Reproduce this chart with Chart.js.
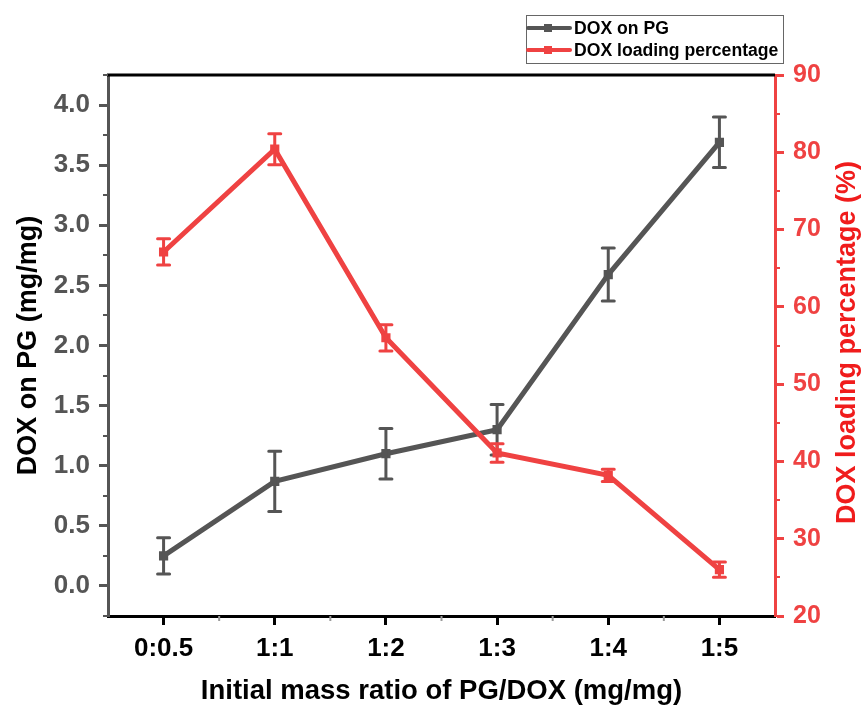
<!DOCTYPE html>
<html>
<head>
<meta charset="utf-8">
<script src="https://cdn.jsdelivr.net/npm/chart.js@4.4.1/dist/chart.umd.min.js"></script>
<style>
  html, body { margin: 0; padding: 0; background: #fff; }
  canvas { display: block; }
</style>
</head>
<body>
<canvas id="loadingChart" width="862" height="705"></canvas>
<script>
// ratios of PG/DOX (x axis)
const categories = ['0:0.5', '1:1', '1:2', '1:3', '1:4', '1:5'];

// DOX on PG (mg/mg), left axis
const doxOnPG = [0.25, 0.87, 1.10, 1.30, 2.59, 3.69];
const doxOnPGErr = [0.15, 0.25, 0.21, 0.21, 0.22, 0.21];

// DOX loading percentage (%), right axis
const loadingPct = [67.1, 80.4, 56.0, 41.1, 38.2, 26.0];
const loadingPctErr = [1.7, 2.0, 1.7, 1.2, 0.8, 1.0];

// tick values
const leftTicks = [0, 0.5, 1.0, 1.5, 2.0, 2.5, 3.0, 3.5, 4.0];
const rightTicks = [20, 30, 40, 50, 60, 70, 80, 90];

const GREY = '#555555';
const RED = '#ef4242';
const FONT = "'Liberation Sans', Arial, sans-serif";

// vertical error bars, drawn right after their own dataset
const errorBars = {
    id: 'errorBars',
    afterDatasetDraw(chart, args) {
        const ds = chart.data.datasets[args.index];
        if (!ds.errors) return;
        const yScale = chart.scales[ds.yAxisID];
        const ctx = chart.ctx;
        ctx.save();
        ctx.strokeStyle = ds.borderColor;
        ctx.lineWidth = 3;
        ctx.lineCap = 'round';
        args.meta.data.forEach((pt, i) => {
            const top = yScale.getPixelForValue(ds.data[i] + ds.errors[i]);
            const bot = yScale.getPixelForValue(ds.data[i] - ds.errors[i]);
            ctx.beginPath();
            ctx.moveTo(pt.x, top); ctx.lineTo(pt.x, bot);
            ctx.moveTo(pt.x - 6, top); ctx.lineTo(pt.x + 6, top);
            ctx.moveTo(pt.x - 6, bot); ctx.lineTo(pt.x + 6, bot);
            ctx.stroke();
        });
        ctx.restore();
    }
};

function minorY(ctx, scale, x, dir, color) {
    const t = scale.ticks;
    const step = t[1].value - t[0].value;
    ctx.strokeStyle = color;
    ctx.lineWidth = 2;
    for (let v = t[0].value - step / 2; v <= scale.max + 1e-9; v += step) {
        if (v < scale.min - 1e-9) continue;
        const y = Math.round(scale.getPixelForValue(v));
        ctx.beginPath();
        ctx.moveTo(x, y); ctx.lineTo(x + dir * 5, y);
        ctx.stroke();
    }
}

// frame, minor ticks, right title and the boxed legend
const decorations = {
    id: 'decorations',
    afterDraw(chart) {
        const { ctx, chartArea: a, scales } = chart;
        ctx.save();

        ctx.strokeStyle = '#000';
        ctx.lineWidth = 3;
        ctx.beginPath();
        ctx.moveTo(a.left - 1, a.top); ctx.lineTo(a.right, a.top);
        ctx.stroke();

        minorY(ctx, scales.y, a.left, -1, GREY);
        minorY(ctx, scales.y1, a.right, 1, RED);

        // x minor ticks halfway between categories
        ctx.strokeStyle = '#9a9a9a';
        ctx.lineWidth = 2;
        for (let i = 0; i < categories.length - 1; i++) {
            const x = (scales.x.getPixelForTick(i) + scales.x.getPixelForTick(i + 1)) / 2;
            ctx.beginPath();
            ctx.moveTo(x, a.bottom); ctx.lineTo(x, a.bottom + 5);
            ctx.stroke();
        }

        // right axis title, reading bottom to top
        ctx.fillStyle = '#f01c1c';
        ctx.font = `bold 27px ${FONT}`;
        ctx.textAlign = 'center';
        ctx.textBaseline = 'middle';
        ctx.translate(848, (a.top + a.bottom) / 2 - 3);
        ctx.rotate(-Math.PI / 2);
        ctx.fillText('DOX loading percentage (%)', 0, 0);
        ctx.setTransform(1, 0, 0, 1, 0, 0);

        // legend
        const lx = 526, ly = 15, lw = 257, lh = 48;
        ctx.strokeStyle = '#666';
        ctx.lineWidth = 1;
        ctx.strokeRect(lx + 0.5, ly + 0.5, lw, lh);
        ctx.font = `bold 17.6px ${FONT}`;
        ctx.textAlign = 'left';
        chart.data.datasets.forEach((ds, i) => {
            const y = ly + 13 + i * 22;
            ctx.strokeStyle = ds.borderColor;
            ctx.lineWidth = 4;
            ctx.lineCap = 'round';
            ctx.beginPath();
            ctx.moveTo(lx + 2, y); ctx.lineTo(lx + 44, y);
            ctx.stroke();
            ctx.fillStyle = ds.borderColor;
            ctx.fillRect(lx + 18, y - 4, 8, 8);
            ctx.fillStyle = '#000';
            ctx.fillText(ds.label, lx + 48, y + 1);
        });
        ctx.restore();
    }
};

const ctx = document.getElementById('loadingChart').getContext('2d');
const loadingChart = new Chart(ctx, {
    type: 'line',
    data: {
        labels: categories,
        datasets: [
            {
                label: 'DOX on PG',
                data: doxOnPG,
                errors: doxOnPGErr,
                yAxisID: 'y',
                borderColor: GREY,
                backgroundColor: GREY,
                borderWidth: 5,
                tension: 0,
                pointStyle: 'rect',
                pointRadius: 6.5,
                pointBorderWidth: 0,
                order: 1
            },
            {
                label: 'DOX loading percentage',
                data: loadingPct,
                errors: loadingPctErr,
                yAxisID: 'y1',
                borderColor: RED,
                backgroundColor: RED,
                borderWidth: 5,
                tension: 0,
                pointStyle: 'rect',
                pointRadius: 6.5,
                pointBorderWidth: 0,
                order: 0
            }
        ]
    },
    options: {
        responsive: false,
        animation: false,
        layout: { padding: { top: 75, left: 0, right: 0, bottom: 0 } },
        plugins: {
            legend: { display: false },
            tooltip: { enabled: false }
        },
        scales: {
            x: {
                offset: true,
                grid: {
                    display: true,
                    offset: false,
                    drawOnChartArea: false,
                    drawTicks: true,
                    tickLength: 9,
                    tickWidth: 3,
                    tickColor: '#000'
                },
                border: { display: true, color: '#000', width: 3 },
                ticks: {
                    color: '#000',
                    padding: 8,
                    maxRotation: 0,
                    autoSkip: false,
                    font: { family: FONT, size: 26, weight: 'bold' }
                },
                title: {
                    display: true,
                    text: 'Initial mass ratio of PG/DOX (mg/mg)',
                    color: '#000',
                    padding: { top: 0, bottom: 0 },
                    font: { family: FONT, size: 27.5, weight: 'bold', lineHeight: 1 }
                },
                afterFit(scale) { scale.height = 89; }
            },
            y: {
                position: 'left',
                min: -0.25,
                max: 4.25,
                afterBuildTicks(scale) { scale.ticks = leftTicks.map(v => ({ value: v })); },
                grid: {
                    display: true,
                    drawOnChartArea: false,
                    tickLength: 9,
                    tickWidth: 3,
                    tickColor: GREY
                },
                border: { display: true, color: GREY, width: 3 },
                ticks: {
                    color: GREY,
                    padding: 9,
                    font: { family: FONT, size: 26, weight: 'bold' },
                    callback: v => v.toFixed(1)
                },
                title: {
                    display: true,
                    text: 'DOX on PG (mg/mg)',
                    color: '#000',
                    padding: { top: 15, bottom: 0 },
                    font: { family: FONT, size: 27, weight: 'bold', lineHeight: 1 }
                },
                afterFit(scale) { scale.width = 108; }
            },
            y1: {
                position: 'right',
                min: 20,
                max: 90,
                afterBuildTicks(scale) { scale.ticks = rightTicks.map(v => ({ value: v })); },
                grid: {
                    display: true,
                    drawOnChartArea: false,
                    tickLength: 9,
                    tickWidth: 3,
                    tickColor: RED
                },
                border: { display: true, color: RED, width: 3 },
                ticks: {
                    color: RED,
                    padding: 9,
                    font: { family: FONT, size: 25, weight: 'bold' }
                },
                afterFit(scale) { scale.width = 87; }
            }
        }
    },
    plugins: [errorBars, decorations]
});
</script>
</body>
</html>
